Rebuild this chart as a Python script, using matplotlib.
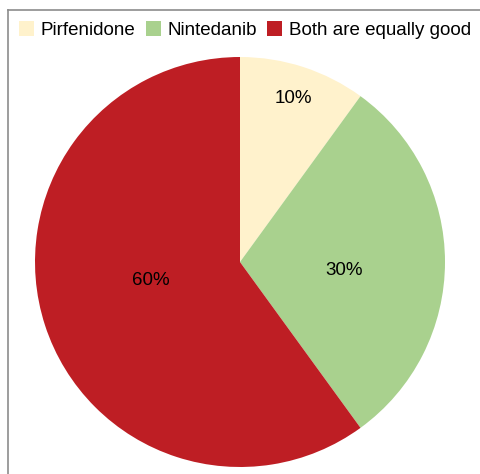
import numpy as np
import matplotlib.pyplot as plt
from matplotlib.lines import Line2D
from matplotlib.patches import Patch

plt.rcParams['font.family'] = ['Liberation Sans', 'DejaVu Sans']

labels = ['Pirfenidone', 'Nintedanib', 'Both are equally good']
shares = [10, 30, 60]
colors = ['#FFF2CC', '#A9D18E', '#BE1E24']
label_dist = [0.84, 0.51, 0.456]
label_dy = [0.0, -0.04, 0.053]

fig = plt.figure(figsize=(4.81, 4.74), dpi=100)
ax = fig.add_axes([35 / 481, 7 / 474, 410 / 481, 410 / 474])

wedges, _ = ax.pie(shares, colors=colors, startangle=90, counterclock=False,
                   radius=1.0, wedgeprops=dict(linewidth=0))
ax.set_xlim(-1, 1)
ax.set_ylim(-1, 1)
ax.set_aspect('equal')
ax.axis('off')

# percentage labels at the middle angle of each slice
total = sum(shares)
start = 90.0
for v, d, dy in zip(shares, label_dist, label_dy):
    span = 360.0 * v / total
    mid = np.deg2rad(start - span / 2)
    ax.text(d * np.cos(mid), d * np.sin(mid) + dy, f'{v / total * 100:.0f}%',
            ha='center', va='center', fontsize=13.5, color='black')
    start -= span

handles = [Patch(facecolor=c, edgecolor='none') for c in colors]
fig.legend(handles, labels, loc='center left', bbox_to_anchor=(19 / 481, 1 - 30 / 474),
           ncol=3, frameon=False, fontsize=13.5, handlelength=0.8, handleheight=0.8,
           handletextpad=0.36, columnspacing=0.54, borderaxespad=0, borderpad=0)

# chart area border (top and left edges)
fig.add_artist(Line2D([8 / 481, 8 / 481], [0, 1 - 10 / 474], color='#8c8c8c', lw=1.2))
fig.add_artist(Line2D([8 / 481, 1], [1 - 10 / 474, 1 - 10 / 474], color='#8c8c8c', lw=1.2))

fig.savefig('out.png', dpi=100)
